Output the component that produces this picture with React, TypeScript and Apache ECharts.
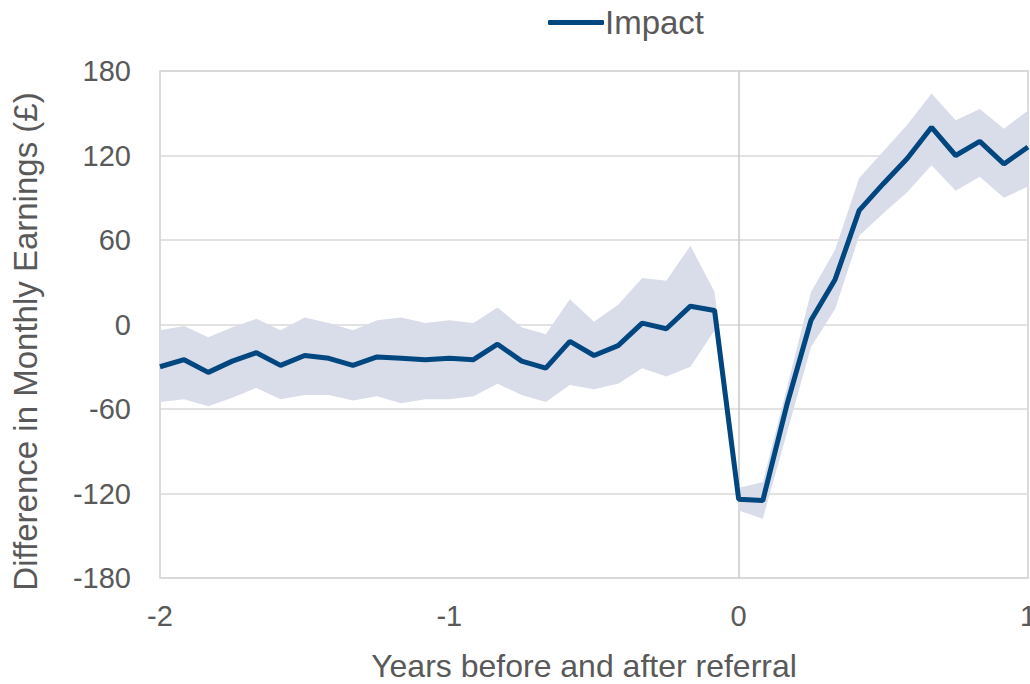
import React, { useEffect, useRef } from "react";
import * as echarts from "echarts";

// months relative to referral (-24 .. +12)
const months = [-24,-23,-22,-21,-20,-19,-18,-17,-16,-15,-14,-13,-12,-11,-10,-9,-8,-7,-6,-5,-4,-3,-2,-1,0,1,2,3,4,5,6,7,8,9,10,11,12];
const impact = [-30,-25,-34,-26,-20,-29,-22,-24,-29,-23,-24,-25,-24,-25,-14,-26,-31,-12,-22,-15,1,-3,13,10,-124,-125,-57,3,32,81,100,118,140,120,130,114,126];
const upper = [-4,-1,-9,-2,4,-4,5,1,-4,3,5,1,3,1,12,-2,-7,18,2,14,33,31,56,23,-116,-112,-45,23,53,104,123,142,164,145,153,139,152];
const lower = [-55,-53,-58,-52,-45,-53,-50,-50,-54,-51,-56,-53,-53,-51,-42,-50,-55,-43,-46,-42,-31,-37,-30,-4,-132,-138,-77,-16,11,63,79,94,113,95,105,90,98];
const yTicks = [-180, -120, -60, 0, 60, 120, 180];

export default function App() {
  const ref = useRef<HTMLDivElement>(null);
  useEffect(() => {
    if (!ref.current) return;
    const chart = echarts.init(ref.current, null, { renderer: "svg" });
    const cats = months.map((m) => String(m));
    const font = "Liberation Sans, Arial, sans-serif";
    chart.setOption({
      animation: false,
      textStyle: { fontFamily: font },
      legend: {
        data: ["Impact"],
        left: 543,
        top: 1,
        icon: "roundRect",
        itemWidth: 56,
        itemHeight: 5,
        textStyle: { fontSize: 33, color: "#595959", fontFamily: font, padding: [0, 0, 0, -4] },
      },
      grid: {
        left: 160, right: 2, top: 71, bottom: 106,
        outerBoundsMode: "none",
        containLabel: false,
        show: true, borderColor: "#d0d0d0", borderWidth: 1.5,
      },
      xAxis: {
        type: "category",
        data: cats,
        boundaryGap: false,
        name: "Years before and after referral",
        nameLocation: "middle",
        nameGap: 72,
        nameTextStyle: { fontSize: 32, color: "#595959", fontFamily: font, padding: [0, 20, 0, 0] },
        axisLine: { show: false },
        axisTick: { show: false },
        splitLine: { show: false },
        axisLabel: {
          interval: 11,
          fontSize: 29,
          color: "#595959",
          margin: 23,
          fontFamily: font,
          formatter: (v: string) => String(Number(v) / 12),
        },
      },
      yAxis: {
        type: "value",
        min: yTicks[0],
        max: yTicks[yTicks.length - 1],
        interval: 60,
        name: "Difference in Monthly Earnings (£)",
        nameLocation: "middle",
        nameGap: 118,
        nameTextStyle: { fontSize: 33, color: "#595959", fontFamily: font, padding: [0, 34, 0, 0] },
        axisLine: { show: false },
        axisTick: { show: false },
        splitLine: { lineStyle: { color: "#d9d9d9", width: 1.5 } },
        axisLabel: { fontSize: 29, color: "#595959", margin: 29, fontFamily: font },
      },
      series: [
        {
          name: "lowerBase",
          type: "line",
          stack: "band",
          stackStrategy: "all",
          data: lower,
          symbol: "none",
          lineStyle: { opacity: 0 },
          silent: true,
        },
        {
          name: "band",
          type: "line",
          stack: "band",
          stackStrategy: "all",
          data: upper.map((u, i) => u - lower[i]),
          symbol: "none",
          lineStyle: { opacity: 0 },
          areaStyle: { color: "#d9dde9", opacity: 1 },
          silent: true,
        },
        {
          name: "Impact",
          type: "line",
          data: impact,
          symbol: "none",
          color: "#00467f",
          lineStyle: { color: "#00467f", width: 5 },
          z: 5,
          markLine: {
            silent: true,
            symbol: "none",
            label: { show: false },
            lineStyle: { color: "#c8c8c8", width: 1.5, type: "solid" },
            data: [{ xAxis: "0" }],
            z: 1,
          },
        },
      ],
    });
    return () => chart.dispose();
  }, []);
  return <div ref={ref} style={{ width: 1030, height: 684, position: "absolute", left: 0, top: 0 }} />;
}
